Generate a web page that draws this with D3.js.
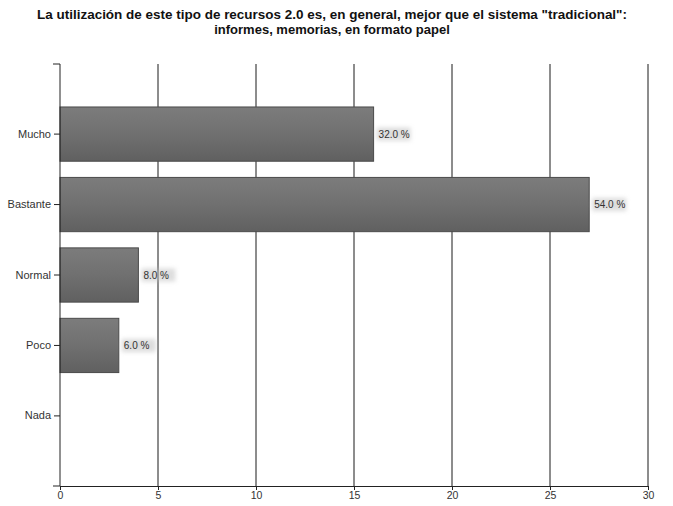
<!DOCTYPE html>
<html><head><meta charset="utf-8">
<script src="https://cdn.jsdelivr.net/npm/d3@7"></script>
<style>
body{margin:0;background:#fff;}
svg{display:block;font-family:"Liberation Sans",Arial,sans-serif;}
</style></head>
<body><svg id="c" width="673" height="506"></svg>
<script>
const titleLines = ["La utilización de este tipo de recursos 2.0 es, en general, mejor que el sistema \"tradicional\":", "informes, memorias, en formato papel"];
const categories = ["Mucho", "Bastante", "Normal", "Poco", "Nada"];
const values = [16, 27, 4, 3, 0];
const percentLabels = ["32.0 %", "54.0 %", "8.0 %", "6.0 %", ""];
const xTicks = [0, 5, 10, 15, 20, 25, 30];

const svg = d3.select("#c");
const x = d3.scaleLinear().domain([0, 30]).range([60, 648]);
const y = d3.scaleBand().domain(categories).range([64, 486]).paddingInner(0.23).paddingOuter(0.61);

const defs = svg.append("defs");
const g = defs.append("linearGradient").attr("id","bg").attr("x1",0).attr("y1",0).attr("x2",0).attr("y2",1);
g.append("stop").attr("offset","0%").attr("stop-color","#7c7c7c");
g.append("stop").attr("offset","50%").attr("stop-color","#707070");
g.append("stop").attr("offset","100%").attr("stop-color","#606060");
const f = defs.append("filter").attr("id","blur").attr("x","-20%").attr("y","-50%").attr("width","140%").attr("height","200%");
f.append("feGaussianBlur").attr("stdDeviation",2);

// title
svg.append("g").selectAll("text").data(titleLines).join("text")
  .attr("x", 332).attr("y", (d,i)=>19+i*15).attr("text-anchor","middle")
  .attr("font-size", 13).attr("font-weight","bold").attr("fill","#111")
  .attr("textLength",(d,i)=>i===0?590:null).attr("lengthAdjust","spacingAndGlyphs")
  .text(d=>d);

// gridlines
svg.append("g").selectAll("line").data(xTicks.slice(1)).join("line")
  .attr("x1", d=>x(d)).attr("x2", d=>x(d)).attr("y1", 64).attr("y2", 486)
  .attr("stroke","#1a1a1a").attr("stroke-width",1);

// bars
svg.append("g").selectAll("rect").data(categories).join("rect")
  .attr("x", x(0)).attr("y", d=>y(d))
  .attr("width", (d,i)=>x(values[i])-x(0)).attr("height", y.bandwidth())
  .attr("fill","url(#bg)").attr("stroke","#4a4a4a").attr("stroke-width",1)
  .attr("display",(d,i)=>values[i]>0?null:"none");

// labels
const lg = svg.append("g");
categories.forEach((c,i)=>{
  if(!values[i]) return;
  const lx = x(values[i]) + 5, ly = y(c) + y.bandwidth()/2 + 3.5;
  lg.append("rect").attr("x", lx-2).attr("y", ly-10).attr("width", 34).attr("height", 13)
    .attr("fill","#bbb").attr("opacity",0.5).attr("filter","url(#blur)");
  lg.append("text").attr("x", lx).attr("y", ly).attr("font-size", 10).attr("fill","#333").text(percentLabels[i]);
});

// axes
const xAxis = d3.axisBottom(x).tickValues(xTicks).tickSize(4).tickSizeOuter(0);
const gx = svg.append("g").attr("transform","translate(0,486)").call(xAxis);
gx.selectAll("text").attr("font-size",10.5).attr("fill","#333").attr("dy","0.6em");
gx.selectAll("line,path").attr("stroke","#222");

const yAxis = d3.axisLeft(y).tickSize(6).tickSizeOuter(7);
const gy = svg.append("g").attr("transform","translate(60,0)").call(yAxis);
gy.selectAll("text").attr("font-size",11).attr("fill","#333");
gy.selectAll("line,path").attr("stroke","#222");
gy.select(".domain").attr("d","M-7,64H0V486H-7");
</script></body></html>
